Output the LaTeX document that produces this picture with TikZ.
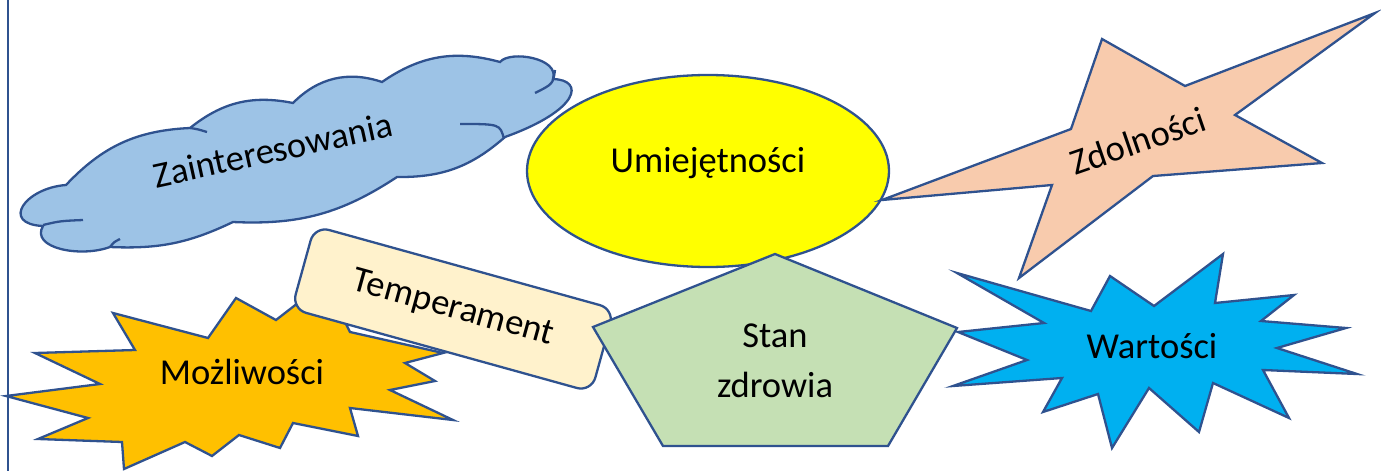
\documentclass[tikz,border=0pt]{standalone}
\usepackage{fontspec}
\setmainfont{Carlito}
\definecolor{edgeblue}{HTML}{2F528F}
\definecolor{cloudblue}{HTML}{9DC3E6}
\definecolor{peach}{HTML}{F8CBAD}
\definecolor{cream}{HTML}{FFF2CC}
\definecolor{amber}{HTML}{FFC000}
\definecolor{sage}{HTML}{C5E0B4}
\definecolor{skyblue}{HTML}{00B0F0}
\definecolor{lemon}{HTML}{FFFF00}

\begin{document}
\begin{tikzpicture}[x=1pt,y=-1pt,
  blob/.style={draw=edgeblue,line width=2.3pt},
  every node/.style={font=\fontsize{36.5}{50}\selectfont},
  tempbox/.style={blob,fill=cream,rounded corners=15pt,minimum width=311pt,minimum height=86pt}]
\useasboundingbox (0,0) rectangle (1381,471);

\draw [edgeblue,line width=2pt](8,0)--(8,471);

% cloud
\draw [blob,fill=cloudblue](66,185) to[bend left=22] (190,128) to[bend left=25] (293,103)
  to[bend left=32] (382,82) to[bend left=25] (500,62)
  .. controls (510,50) and (560,58) .. (553,79)
  .. controls (585,80) and (580,110) .. (505,137) to[bend left=21] (397,177)
  to[bend left=18] (233,222) to[bend left=14] (110,247)
  .. controls (80,258) and (30,248) .. (43,226)
  .. controls (0,224) and (25,188) .. (66,185) -- cycle;
\draw [blob](190,128) .. controls (197,129) .. (207,132);
\draw [blob](555,70) .. controls (553,84) .. (535,93);
\draw [blob](504,139) .. controls (500,124) .. (460,124);
\draw [blob](43,225) .. controls (60,221) .. (83,220);
\draw [blob](110,247) .. controls (114,242) .. (120,239);
\node [rotate=12.3] (zaint) at (273,150) {Zainteresowania};

% ellipse
\draw [blob,fill=lemon](708,171) ellipse [x radius=181, y radius=96];
\node [anchor=base] (umiej) at (708,172) {Umiejętności};

% star
\draw [blob,fill=peach](1375,13)--(1235,115)--(1322,163)--(1153,176)--(1019,278)
  --(1052,185)--(882,200)--(1071,129)--(1102,39)--(1185,86)--cycle;
\node [rotate=19] (zdol) at (1138,141) {Zdolności};

% explosion left
\draw [blob,fill=amber](113,313)--(208,338)--(236,298)--(276,320)--(325,282)--(350,332)
  --(443,353)--(405,363)--(435,381)--(390,390)--(453,420)--(350,408)--(358,436)
  --(293,423)--(280,448)--(239,435)--(212,456)--(185,442)--(124,469)--(122,442)
  --(38,439)--(88,418)--(6,396)--(100,384)--(35,353)--(135,350)--cycle;
\node [anchor=base] (mozl) at (242,384) {Możliwości};

\node [tempbox,rotate=-15.5] (temper) at (453,309) {Temperament};

% explosion right
\draw [blob,fill=skyblue](957,273)--(1091,311)--(1110,276)--(1154,306)--(1223,254)
  --(1215,303)--(1294,295)--(1261,321)--(1346,328)--(1277,348)--(1357,374)
  --(1263,370)--(1289,418)--(1213,383)--(1199,432)--(1149,388)--(1112,448)
  --(1098,394)--(1043,412)--(1062,378)--(953,386)--(1027,360)--(958,332)
  --(1044,323)--cycle;
\node [anchor=base] (wart) at (1152,358) {Wartości};

% pentagon
\draw [blob,fill=sage](775,254)--(957,328)--(888,446)--(663,446)--(593,327)--cycle;
\node [align=center,inner sep=0pt] (stan) at (775,361) {Stan\\zdrowia};

\end{tikzpicture}
\end{document}
